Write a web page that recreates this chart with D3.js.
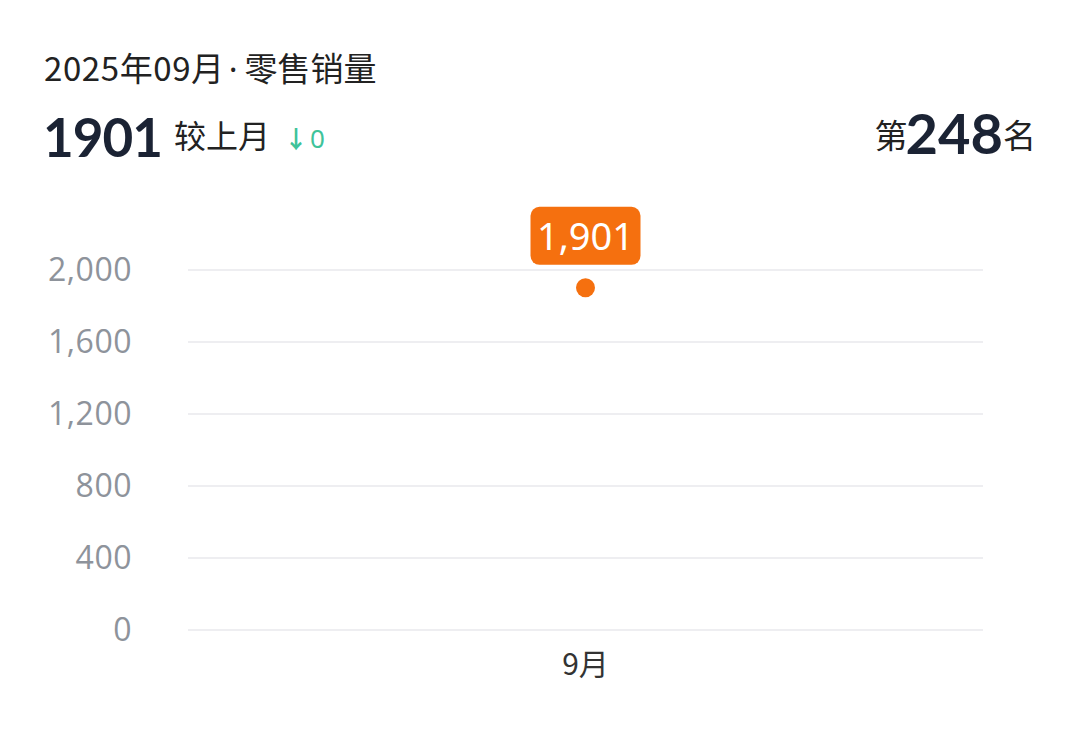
<!DOCTYPE html>
<html>
<head>
<meta charset="utf-8">
<script src="https://cdn.jsdelivr.net/npm/d3@7"></script>
<style>
body { margin: 0; background: #fff; }
svg { font-family: "Noto Sans CJK SC", "Noto Sans", sans-serif; }
</style>
</head>
<body>
<svg class="chart" width="1080" height="738"></svg>
<script>
// chart data
var months = ["9月"];
var sales = [1901];
var yTicks = [0, 400, 800, 1200, 1600, 2000];
var titleMain = "2025年09月";
var titleSub = "零售销量";
var total = 1901;
var change = 0;
var rank = 248;

var svg = d3.select(".chart");

// header
var ttl = svg.append("text")
    .attr("x", 44).attr("y", 81)
    .attr("font-size", 33).attr("fill", "#222");
ttl.append("tspan").attr("letter-spacing", 0.6).text(titleMain);
ttl.append("tspan").attr("font-family", "'Noto Sans', sans-serif").attr("dx", 4).text("·");
ttl.append("tspan").attr("dx", 7).text(titleSub);

var head = svg.append("text")
    .attr("x", 43).attr("y", 157)
    .attr("fill", "#1b2334");
head.append("tspan")
    .attr("font-size", 53).attr("font-weight", "bold")
    .attr("font-family", "Lato, 'Noto Sans', sans-serif")
    .attr("letter-spacing", -1)
    .text(total);
head.append("tspan")
    .attr("dx", 12).attr("dy", -9)
    .attr("font-size", 32).attr("fill", "#222")
    .text("较上月");
head.append("tspan")
    .attr("dx", 14)
    .attr("font-size", 24).attr("font-weight", "bold").attr("fill", "#3ec39a")
    .text("↓");
head.append("tspan")
    .attr("dx", 2)
    .attr("font-size", 26).attr("fill", "#3ec39a")
    .attr("font-family", "'Noto Sans', sans-serif")
    .text(change);

var rk = svg.append("text")
    .attr("x", 1036).attr("y", 148)
    .attr("text-anchor", "end")
    .attr("fill", "#1b2334");
rk.append("tspan").attr("font-size", 33).attr("fill", "#222").text("第");
rk.append("tspan")
    .attr("font-size", 56).attr("font-weight", "bold")
    .attr("font-family", "Lato, 'Noto Sans', sans-serif")
    .attr("dx", -2).attr("dy", 6)
    .text(rank);
rk.append("tspan").attr("font-size", 33).attr("fill", "#222").attr("dy", -6).text("名");

// plot
var plotLeft = 188, plotRight = 983, plotTop = 270, plotBottom = 630;

var x = d3.scaleBand().domain(months).range([plotLeft, plotRight]);
var y = d3.scaleLinear().domain([0, 2000]).range([plotBottom, plotTop]);

var grid = svg.append("g");
grid.selectAll("line")
    .data(yTicks)
    .enter().append("line")
    .attr("x1", plotLeft).attr("x2", plotRight)
    .attr("y1", function(d) { return y(d); })
    .attr("y2", function(d) { return y(d); })
    .attr("stroke", "#e8e9ec").attr("stroke-width", 1.5);

svg.append("g")
    .attr("transform", "translate(" + 132 + ",0)")
    .call(d3.axisLeft(y).tickValues(yTicks).tickSize(0).tickPadding(0)
        .tickFormat(d3.format(",")))
    .call(function(g) { g.select(".domain").remove(); })
    .selectAll("text")
    .attr("font-size", 32)
    .attr("letter-spacing", 0.5)
    .attr("fill", "#8e939b")
    .attr("font-family", "'Open Sans', sans-serif");

svg.append("g")
    .attr("transform", "translate(0," + plotBottom + ")")
    .call(d3.axisBottom(x).tickSize(0).tickPadding(24))
    .call(function(g) { g.select(".domain").remove(); })
    .selectAll("text")
    .attr("font-size", 30)
    .attr("fill", "#333")
    .attr("font-family", "'Noto Sans CJK SC', sans-serif");

// point + label
var pts = svg.append("g").selectAll("g")
    .data(sales)
    .enter().append("g")
    .attr("transform", function(d, i) {
        return "translate(" + (x(months[i]) + x.bandwidth() / 2) + "," + y(d) + ")";
    });

pts.append("circle")
    .attr("r", 9.5)
    .attr("fill", "#f5700f");

pts.append("rect")
    .attr("x", -55).attr("y", -81)
    .attr("width", 110).attr("height", 58)
    .attr("rx", 9)
    .attr("fill", "#f5700f");

pts.append("text")
    .attr("y", -38)
    .attr("text-anchor", "middle")
    .attr("font-size", 38)
    .attr("fill", "#fff")
    .attr("font-family", "'Noto Sans', sans-serif")
    .text(function(d) { return d3.format(",")(d); });
</script>
</body>
</html>
